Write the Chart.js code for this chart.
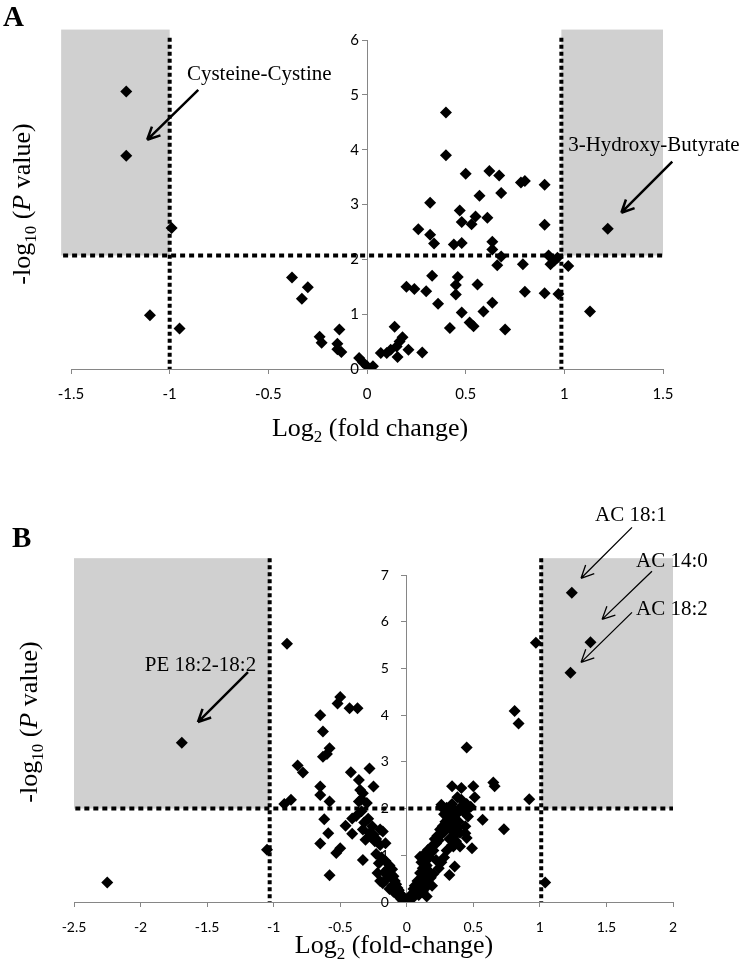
<!DOCTYPE html>
<html>
<head>
<meta charset="utf-8">
<script src="https://cdn.jsdelivr.net/npm/chart.js@4.4.1/dist/chart.umd.min.js"></script>
<style>
  body { margin: 0; background: #fff; width: 744px; height: 968px; position: relative; overflow: hidden; }
  canvas { position: absolute; left: 0; }
</style>
</head>
<body>
<canvas id="chartA" width="744" height="480" style="top:0"></canvas>
<canvas id="chartB" width="744" height="488" style="top:480px"></canvas>
<script>
// ---- panel A : log2 fold change vs -log10 P ----
const fcA = [-1.22, -1.22, -0.99, -1.10, -0.95, -0.38, -0.30, -0.33, -0.24, -0.23,
  -0.14, -0.15, -0.15, -0.13, -0.04, -0.02, 0.00, 0.03, 0.07, 0.10,
  0.12, 0.14, 0.18, 0.165, 0.15, 0.155, 0.21, 0.28, 0.20, 0.24,
  0.30, 0.36, 0.33, 0.46, 0.45, 0.45, 0.56, 0.42, 0.52, 0.54,
  0.48, 0.59, 0.635, 0.70, 0.80, 0.90, 0.97, 1.13, 0.66, 0.79,
  0.68, 0.92, 0.95, 0.93, 0.965, 1.02, 0.26, 0.32, 0.34, 0.44,
  0.48, 0.635, 0.635, 0.90, 0.47, 0.48, 0.53, 0.55, 0.61, 0.32,
  0.57, 0.68, 0.50, 0.62, 0.67, 0.78, 0.80, 0.90, 0.40, 0.40, 1.22];
const pA = [5.06, 3.89, 2.57, 0.98, 0.74, 1.67, 1.49, 1.28, 0.59, 0.48,
  0.72, 0.46, 0.36, 0.31, 0.20, 0.12, 0.05, 0.05, 0.29, 0.29,
  0.35, 0.77, 0.58, 0.50, 0.41, 0.22, 0.35, 0.30, 1.50, 1.46,
  1.42, 1.19, 1.70, 1.68, 1.53, 1.36, 1.54, 0.75, 0.85, 0.78,
  1.03, 1.05, 1.21, 0.72, 1.41, 1.38, 1.37, 1.05, 1.89, 1.91,
  2.05, 2.07, 1.98, 1.91, 2.03, 1.88, 2.55, 2.45, 2.29, 2.27,
  2.30, 2.32, 2.18, 2.63, 2.89, 2.68, 2.64, 2.78, 2.76, 3.03,
  3.16, 3.21, 3.56, 3.61, 3.53, 3.40, 3.43, 3.36, 3.90, 4.68, 2.56];
const xTicksA = [-1.5, -1, -0.5, 0, 0.5, 1, 1.5];
const yTicksA = [0, 1, 2, 3, 4, 5, 6];

// ---- panel B ----
const fcB = [
  // outliers
  -2.25, -1.69, -1.05, -0.90, 0.97, 1.24, 1.38, 1.23, 0.81, 0.84, 1.04, 0.92, 0.45, 0.73, 0.57,
  // left upper cluster
  -0.50, -0.52, -0.43, -0.37, -0.65, -0.63, -0.58, -0.63, -0.60, -0.82, -0.78, -0.42, -0.36, -0.28,
  -0.65, -0.65, -0.58, -0.92, -0.87, -0.35, -0.33, -0.25, -0.34, -0.36, -0.30, -0.34, -0.38, -0.41,
  -0.62, -0.46, -0.41, -0.59, -0.33, -0.26, -0.28, -0.25, -0.20, -0.18, -0.31, -0.23, -0.20, -0.65,
  -0.16, -0.50, -0.53, -0.23, -0.21, -0.33, -0.14, -0.17, -0.22, -0.58, -0.32, -0.29, -0.27, -0.24,
  // left arm
  -0.19, -0.16, -0.13, -0.11, -0.12, -0.10, -0.15, -0.09, -0.08, -0.11, -0.07, -0.06, -0.08, -0.05,
  -0.04, -0.03, -0.04, -0.02, -0.01, -0.02, -0.20, -0.18, -0.13, -0.10, -0.06, -0.03,
  // right arm
  0.01, 0.02, 0.03, 0.04, 0.05, 0.03, 0.06, 0.07, 0.05, 0.08, 0.09, 0.06, 0.10, 0.08, 0.11, 0.12,
  0.13, 0.10, 0.14, 0.12, 0.15, 0.16, 0.11, 0.14, 0.17, 0.13, 0.18, 0.16, 0.20, 0.19, 0.22, 0.21,
  0.24, 0.23, 0.26, 0.25, 0.28, 0.27, 0.30, 0.29, 0.31, 0.33, 0.28, 0.32, 0.30, 0.35, 0.34, 0.26,
  0.36, 0.38, 0.40, 0.42, 0.33, 0.36, 0.38, 0.40, 0.44, 0.37, 0.34, 0.32, 0.30, 0.28, 0.26, 0.22,
  0.24, 0.20, 0.18, 0.16, 0.19, 0.14, 0.12, 0.09, 0.15, 0.10,
  // right upper spread
  0.36, 0.32, 0.40, 0.49, 0.35, 0.44, 0.45, 0.33, 0.35, 0.39, 0.44, 0.46, 0.26, 0.38, 0.41, 0.45,
  0.48, 0.34, 0.41, 0.50, 0.65, 0.66, 0.51];
const pB = [
  0.42, 3.41, 1.12, 5.53, 5.55, 6.62, 5.56, 4.91, 4.09, 3.82, 0.42, 2.20, 3.31, 1.56, 1.76,
  4.39, 4.25, 4.15, 4.15, 4.00, 3.65, 3.29, 3.11, 3.17, 2.92, 2.77, 2.78, 2.61, 2.86,
  2.47, 2.29, 2.15, 2.10, 2.19, 2.40, 2.33, 2.47, 2.20, 2.15, 2.12, 1.94, 1.84, 1.79,
  1.77, 1.63, 1.46, 1.47, 1.55, 1.62, 1.47, 1.44, 1.55, 1.51, 1.33, 1.35, 1.22, 1.25,
  1.26, 1.15, 1.05, 1.03, 0.83, 0.90, 0.71, 0.63, 0.62, 0.57, 1.70, 1.78, 1.40, 1.30,
  0.95, 0.88, 0.78, 0.70, 0.60, 0.55, 0.50, 0.45, 0.38, 0.35, 0.30, 0.25, 0.20, 0.18,
  0.14, 0.10, 0.06, 0.05, 0.02, 0.01, 0.45, 0.40, 0.28, 0.22, 0.12, 0.03,
  0.02, 0.05, 0.08, 0.12, 0.10, 0.15, 0.20, 0.18, 0.28, 0.25, 0.32, 0.35, 0.40, 0.45, 0.50, 0.38,
  0.55, 0.62, 0.65, 0.72, 0.78, 0.68, 0.85, 0.90, 0.95, 1.02, 1.05, 1.12, 1.10, 1.20, 1.25, 1.35,
  1.32, 1.42, 1.45, 1.55, 1.50, 1.62, 1.62, 1.72, 1.80, 1.75, 1.88, 1.95, 2.02, 1.98, 2.10, 2.04,
  1.85, 1.90, 2.02, 1.95, 1.55, 1.42, 1.60, 1.48, 1.62, 1.30, 1.22, 1.35, 1.10, 0.95, 0.85, 0.90,
  0.72, 0.60, 0.52, 0.42, 0.35, 0.30, 0.22, 0.15, 0.12, 0.97,
  0.76, 0.58, 1.19, 1.15, 1.19, 1.47, 1.37, 1.83, 1.69, 1.72, 1.94, 1.83, 2.08, 2.24, 2.19, 2.10,
  2.04, 2.48, 2.44, 2.48, 2.56, 2.48, 2.24];
const xTicksB = [-2.5, -2, -1.5, -1, -0.5, 0, 0.5, 1, 1.5, 2];
const yTicksB = [0, 1, 2, 3, 4, 5, 6, 7];

const axisGray = '#868686';
const shadeGray = '#d0d0d0';

// draws shaded corners, dashed cut-offs, labels, arrows and axis titles
const overlay = {
  id: 'overlay',
  beforeDatasetsDraw(chart, args, o) {
    const { ctx, scales: { x, y } } = chart;
    ctx.save();
    ctx.fillStyle = shadeGray;
    o.shades.forEach(r => {
      const x1 = x.getPixelForValue(r[0]), x2 = x.getPixelForValue(r[1]);
      const y1 = y.getPixelForValue(r[3]), y2 = y.getPixelForValue(r[2]);
      ctx.fillRect(x1, y1, x2 - x1, y2 - y1);
    });
    ctx.strokeStyle = '#000';
    ctx.lineWidth = 4;
    ctx.lineCap = 'butt';
    ctx.setLineDash([5, 4]);
    const h = o.hLine;
    ctx.beginPath();
    ctx.moveTo(x.getPixelForValue(h.from), y.getPixelForValue(h.at));
    ctx.lineTo(x.getPixelForValue(h.to), y.getPixelForValue(h.at));
    ctx.stroke();
    ctx.setLineDash([4, 3]);
    o.vLines.forEach(v => {
      ctx.beginPath();
      ctx.moveTo(x.getPixelForValue(v.at), y.getPixelForValue(v.to));
      ctx.lineTo(x.getPixelForValue(v.at), y.getPixelForValue(0));
      ctx.stroke();
    });
    ctx.restore();
  },
  afterDraw(chart, args, o) {
    const { ctx, scales: { x, y } } = chart;
    ctx.save();
    ctx.fillStyle = '#000';
    ctx.strokeStyle = '#000';

    // y tick labels, left of the axis that sits at x = 0
    ctx.font = o.yTickFont + 'px Lato';
    ctx.textAlign = 'right';
    ctx.textBaseline = 'middle';
    const ax = x.getPixelForValue(0);
    y.ticks.forEach(t => ctx.fillText(String(t.value), ax - o.yLabelGap, y.getPixelForValue(t.value)));

    ctx.font = '21px "Liberation Serif"';
    ctx.textAlign = 'center';
    o.notes.forEach(n => {
      ctx.fillText(n.text, x.getPixelForValue(n.tx), y.getPixelForValue(n.ty));
      const x1 = x.getPixelForValue(n.a[0]), y1 = y.getPixelForValue(n.a[1]);
      const x2 = x.getPixelForValue(n.a[2]), y2 = y.getPixelForValue(n.a[3]);
      ctx.lineWidth = n.w;
      ctx.beginPath();
      ctx.moveTo(x1, y1);
      ctx.lineTo(x2, y2);
      const ang = Math.atan2(y2 - y1, x2 - x1);
      [0.45, -0.45].forEach(d => {
        ctx.moveTo(x2, y2);
        ctx.lineTo(x2 - 14 * Math.cos(ang + d), y2 - 14 * Math.sin(ang + d));
      });
      ctx.stroke();
    });

    // panel letter
    ctx.textAlign = 'left';
    ctx.textBaseline = 'alphabetic';
    ctx.font = 'bold 29px "Liberation Serif"';
    ctx.fillText(o.letter, o.letterPos[0], o.letterPos[1]);

    // x title with subscript
    const big = '26px "Liberation Serif"', small = '17px "Liberation Serif"';
    const xt = o.xTitle;
    ctx.font = big; const w1 = ctx.measureText('Log').width;
    ctx.font = small; const w2 = ctx.measureText('2').width;
    ctx.font = big; const w3 = ctx.measureText(xt.rest).width;
    let sx = xt.cx - (w1 + w2 + w3) / 2;
    ctx.fillText('Log', sx, xt.base);
    ctx.font = small; ctx.fillText('2', sx + w1, xt.base + 6);
    ctx.font = big; ctx.fillText(xt.rest, sx + w1 + w2, xt.base);

    // y title, rotated, subscript and italic P
    const yt = o.yTitle;
    ctx.translate(yt.cx, yt.cy);
    ctx.rotate(-Math.PI / 2);
    const parts = [
      ['-log', big, 0], ['10', small, 6], [' (', big, 0],
      ['P', 'italic 26px "Liberation Serif"', 0], [' value)', big, 0]
    ];
    let total = 0;
    parts.forEach(p => { ctx.font = p[1]; total += ctx.measureText(p[0]).width; });
    let px = -total / 2;
    parts.forEach(p => {
      ctx.font = p[1];
      ctx.fillText(p[0], px, yt.base + p[2]);
      px += ctx.measureText(p[0]).width;
    });
    ctx.restore();
  }
};

function scalesFor(xTicks, yTicks, xPad, fontSize) {
  return {
    x: {
      type: 'linear',
      min: xTicks[0], max: xTicks[xTicks.length - 1],
      afterBuildTicks: s => { s.ticks = xTicks.map(v => ({ value: v })); },
      afterFit: s => { s.height = 30; },
      ticks: { color: '#000', font: { family: 'Lato', size: fontSize }, padding: xPad, callback: v => String(v), maxRotation: 0 },
      grid: { drawOnChartArea: false, drawTicks: true, tickLength: 5, color: axisGray },
      border: { color: axisGray, width: 1 }
    },
    y: {
      type: 'linear',
      axis: 'y',
      position: { x: 0 },
      min: yTicks[0], max: yTicks[yTicks.length - 1],
      afterBuildTicks: s => { s.ticks = yTicks.map(v => ({ value: v })); },
      ticks: { display: false },
      grid: { drawOnChartArea: false, drawTicks: true, tickLength: 5, color: axisGray },
      border: { color: axisGray, width: 1 }
    }
  };
}

function pts(xs, ys) { return xs.map((v, i) => ({ x: v, y: ys[i] })); }

const dsStyle = { pointStyle: 'rectRot', pointRadius: 6, pointHoverRadius: 6, backgroundColor: '#000', borderWidth: 0 };

new Chart(document.getElementById('chartA'), {
  type: 'scatter',
  data: { datasets: [{ data: pts(fcA, pA), ...dsStyle }] },
  options: {
    responsive: false,
    animation: false,
    events: [],
    layout: { padding: { left: 71, right: 81, top: 40, bottom: 81 } },
    scales: scalesFor(xTicksA, yTicksA, 11, 15),
    plugins: {
      legend: { display: false },
      tooltip: { enabled: false },
      overlay: {
        yTickFont: 15, yLabelGap: 8,
        shades: [[-1.55, -1.0, 2.07, 6.19], [0.985, 1.5, 2.07, 6.19]],
        hLine: { at: 2.07, from: -1.54, to: 1.5 },
        vLines: [{ at: -1.0, to: 6.04 }, { at: 0.985, to: 6.04 }],
        notes: [
          { text: 'Cysteine-Cystine', tx: -0.546, ty: 5.38, a: [-0.855, 5.09, -1.114, 4.18], w: 2.5 },
          { text: '3-Hydroxy-Butyrate', tx: 1.454, ty: 4.07, a: [1.547, 3.78, 1.289, 2.85], w: 2.5 }
        ],
        letter: 'A', letterPos: [3, 26],
        xTitle: { cx: 370, base: 436, rest: ' (fold change)' },
        yTitle: { cx: 22, cy: 204, base: 8 }
      }
    }
  },
  plugins: [overlay]
});

new Chart(document.getElementById('chartB'), {
  type: 'scatter',
  data: { datasets: [{ data: pts(fcB, pB), ...dsStyle }] },
  options: {
    responsive: false,
    animation: false,
    events: [],
    layout: { padding: { left: 74, right: 71, top: 95, bottom: 36 } },
    scales: scalesFor(xTicksB, yTicksB, 12, 14),
    plugins: {
      legend: { display: false },
      tooltip: { enabled: false },
      overlay: {
        yTickFont: 14, yLabelGap: 18,
        shades: [[-2.5, -1.03, 2.0, 7.36], [1.01, 2.0, 2.0, 7.36]],
        hLine: { at: 2.0, from: -2.49, to: 2.0 },
        vLines: [{ at: -1.03, to: 7.36 }, { at: 1.01, to: 7.36 }],
        notes: [
          { text: 'PE 18:2-18:2', tx: -1.55, ty: 5.07, a: [-1.193, 4.92, -1.569, 3.85], w: 2.5 },
          { text: 'AC 18:1', tx: 1.684, ty: 8.28, a: [1.692, 8.02, 1.309, 6.93], w: 1.3 },
          { text: 'AC 14:0', tx: 1.992, ty: 7.29, a: [1.842, 7.08, 1.467, 6.05], w: 1.3 },
          { text: 'AC 18:2', tx: 1.992, ty: 6.26, a: [1.692, 6.20, 1.309, 5.13], w: 1.3 }
        ],
        letter: 'B', letterPos: [12, 67],
        xTitle: { cx: 394, base: 473, rest: ' (fold-change)' },
        yTitle: { cx: 29, cy: 242, base: 8 }
      }
    }
  },
  plugins: [overlay]
});
</script>
</body>
</html>
